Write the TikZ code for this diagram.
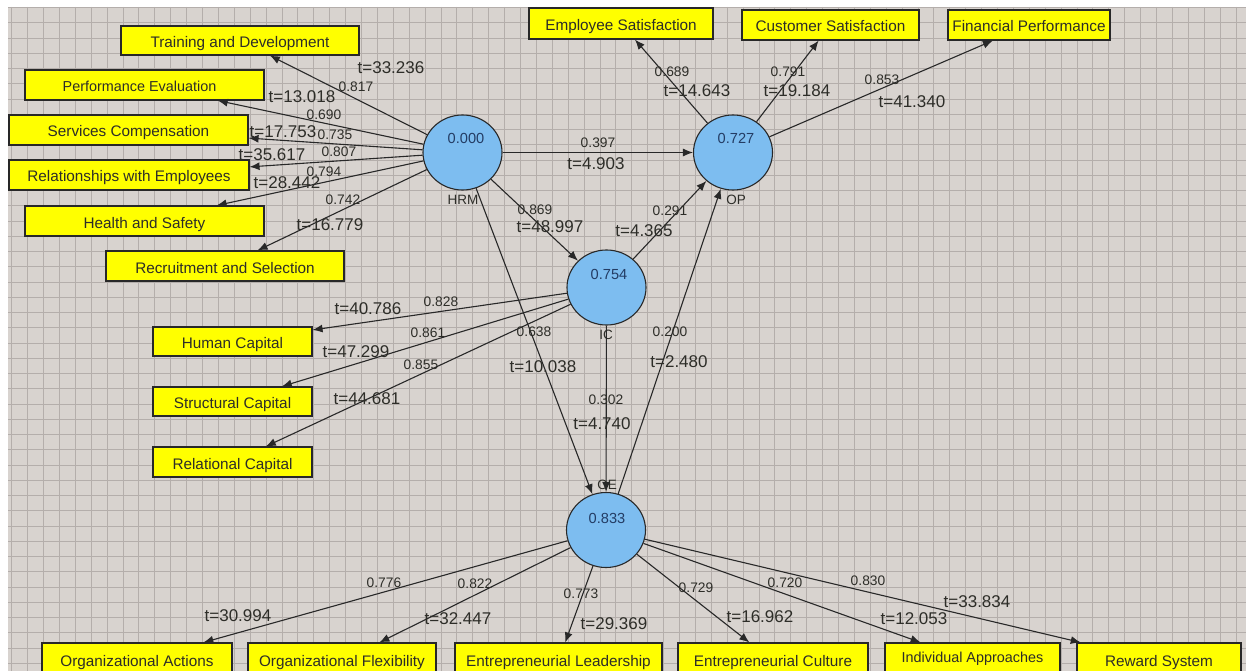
\documentclass[tikz,border=0pt]{standalone}
\usepackage{fontspec}
\setmainfont{Liberation Sans}
\usetikzlibrary{arrows.meta,shapes.geometric}
\definecolor{bg}{RGB}{216,211,207}
\definecolor{gridc}{RGB}{180,174,171}
\definecolor{boxy}{RGB}{255,255,0}
\definecolor{circ}{RGB}{125,189,240}
\definecolor{edge}{RGB}{40,40,40}
\definecolor{valc}{RGB}{35,60,100}
\definecolor{txt}{RGB}{45,45,40}
\tikzset{
 lv/.style={ellipse, draw=edge, line width=1.1pt, fill=circ, minimum width=79pt, minimum height=75pt, inner sep=0pt},
 ibox/.style={rectangle, draw=edge, line width=1.1pt, fill=boxy, inner sep=0pt, text height=14pt, text depth=0pt, font=\fontsize{15.3}{18}\selectfont, text=txt},
 conn/.style={draw=edge, line width=1.1pt, -{Latex[length=10pt,width=8pt]}},
 tval/.style={font=\fontsize{17}{20}\selectfont, text=txt, inner sep=0pt},
 lval/.style={font=\fontsize{13.8}{16}\selectfont, text=txt, inner sep=0pt},
 cval/.style={font=\fontsize{14.6}{17}\selectfont, text=valc, inner sep=0pt},
 cname/.style={font=\fontsize{13.5}{16}\selectfont, text=txt, inner sep=0pt},
 gridline/.style={draw=gridc, line width=0.8pt}
}
\begin{document}
\begin{tikzpicture}[x=1pt,y=-1pt]
\useasboundingbox (0,0) rectangle (1246,671);
\fill[white] (0,0) rectangle (1246,671);
\fill[bg] (8,7) rectangle (1246,671);
\foreach \i in {0,...,77} \draw[gridline] ({11.6+15.9*\i},7) -- ({11.6+15.9*\i},671);
\foreach \j in {0,...,43} \draw[gridline] (8,{7.5+15.25*\j}) -- (1246,{7.5+15.25*\j});

% latent variables
\node[lv] (hrm) at (462.5,152.5) {};
\node[lv] (op) at (733,152.5) {};
\node[lv] (ic) at (606.5,287.5) {};
\node[lv] (oe) at (606,530) {};
\node[cval] (hrmv) at (466,138) {0.000};
\node[cval] (opv) at (736,138) {0.727};
\node[cval] (icv) at (609,274) {0.754};
\node[cval] (oev) at (607,518) {0.833};
\node[cname] (hrmn) at (463,200) {HRM};
\node[cname] (opn) at (736,200) {OP};
\node[cname] (icn) at (606,335) {IC};
\node[cname] (oen) at (607,485) {OE};

% indicator boxes
\node[ibox, minimum width=238pt, minimum height=29pt] (td) at (240,40.5) {Training and Development};
\node[ibox, minimum width=239pt, minimum height=30pt, font=\fontsize{14.4}{17}\selectfont] (pe) at (144.5,85) {Performance Evaluation\hspace*{10pt}};
\node[ibox, minimum width=239pt, minimum height=30pt] (sc) at (128.5,130) {Services Compensation};
\node[ibox, minimum width=240pt, minimum height=30pt] (re) at (129,175) {Relationships with Employees};
\node[ibox, minimum width=239pt, minimum height=30pt] (hs) at (144.5,221) {Health and Safety};
\node[ibox, minimum width=238pt, minimum height=30pt] (rs) at (225,266) {Recruitment and Selection};

\node[ibox, minimum width=184pt, minimum height=31pt] (es) at (621,23.5) {Employee Satisfaction};
\node[ibox, minimum width=177pt, minimum height=30pt] (cs) at (830.5,25) {Customer Satisfaction};
\node[ibox, minimum width=162pt, minimum height=30pt] (fp) at (1029,25) {Financial Performance};

\node[ibox, minimum width=159pt, minimum height=29pt] (hc) at (232.5,341.5) {Human Capital};
\node[ibox, minimum width=159pt, minimum height=29pt] (stc) at (232.5,401.5) {Structural Capital};
\node[ibox, minimum width=159pt, minimum height=30pt] (rc) at (232.5,462) {Relational Capital};

\node[ibox, minimum width=190pt, minimum height=36pt] (oa) at (137,661) {\raisebox{2pt}{Organizational Actions}};
\node[ibox, minimum width=188pt, minimum height=36pt] (of) at (342,661) {\raisebox{2pt}{Organizational Flexibility}};
\node[ibox, minimum width=207pt, minimum height=36pt] (el) at (558.5,661) {\raisebox{2pt}{Entrepreneurial Leadership}};
\node[ibox, minimum width=190pt, minimum height=36pt] (ec) at (773,661) {\raisebox{2pt}{Entrepreneurial Culture}};
\node[ibox, minimum width=175pt, minimum height=36pt, font=\fontsize{14.4}{17}\selectfont] (ia) at (972.5,661) {\raisebox{5.5pt}{Individual Approaches}};
\node[ibox, minimum width=164pt, minimum height=36pt] (rws) at (1159,661) {\raisebox{2pt}{Reward System}};

% connectors
\foreach \b in {td,pe,sc,re,hs,rs} \draw[conn] (hrm) -- (\b);
\foreach \b in {es,cs,fp} \draw[conn] (op) -- (\b);
\foreach \b in {hc,stc,rc} \draw[conn] (ic) -- (\b);
\foreach \b in {oa,of,el,ec,ia,rws} \draw[conn] (oe) -- (\b);
\draw[conn] (hrm) -- (op);
\draw[conn] (hrm) -- (ic);
\draw[conn] (hrm) -- (oe);
\draw[conn] (ic) -- (op);
\draw[conn] (ic) -- (oe);
\draw[conn] (oe) -- (op);

% labels: HRM indicators
\node[tval] (l1t) at (391,68) {t=33.236};
\node[lval] (l1v) at (356,87) {0.817};
\node[tval] (l2t) at (302,97) {t=13.018};
\node[lval] (l2v) at (324,115) {0.690};
\node[tval] (l3t) at (283,132) {t=17.753};
\node[lval] (l3v) at (335,135) {0.735};
\node[tval] (l4t) at (272,155) {t=35.617};
\node[lval] (l4v) at (339,152) {0.807};
\node[lval] (l5v) at (324,172) {0.794};
\node[tval] (l5t) at (287,183) {t=28.442};
\node[lval] (l6v) at (343,200) {0.742};
\node[tval] (l6t) at (330,225) {t=16.779};

% structural paths
\node[lval] (p1v) at (598,143) {0.397};
\node[tval] (p1t) at (596,164) {t=4.903};
\node[lval] (p2v) at (535,210) {0.869};
\node[tval] (p2t) at (550,227) {t=48.997};
\node[lval] (p3v) at (670,211) {0.291};
\node[tval] (p3t) at (644,231) {t=4.365};
\node[lval] (p4v) at (534,332) {0.638};
\node[tval] (p4t) at (543,367) {t=10.038};
\node[lval] (p5v) at (606,400) {0.302};
\node[tval] (p5t) at (602,424) {t=4.740};
\node[lval] (p6v) at (670,332) {0.200};
\node[tval] (p6t) at (679,362) {t=2.480};

% OP indicators
\node[lval] (o1v) at (672,72) {0.689};
\node[tval] (o1t) at (697,91) {t=14.643};
\node[lval] (o2v) at (788,72) {0.791};
\node[tval] (o2t) at (797,91) {t=19.184};
\node[lval] (o3v) at (882,80) {0.853};
\node[tval] (o3t) at (912,102) {t=41.340};

% IC indicators
\node[tval] (c1t) at (368,309) {t=40.786};
\node[lval] (c1v) at (441,302) {0.828};
\node[lval] (c2v) at (428,333) {0.861};
\node[tval] (c2t) at (356,352) {t=47.299};
\node[lval] (c3v) at (421,365) {0.855};
\node[tval] (c3t) at (367,399) {t=44.681};

% OE indicators
\node[lval] (e1v) at (384,583) {0.776};
\node[tval] (e1t) at (238,616) {t=30.994};
\node[lval] (e2v) at (475,584) {0.822};
\node[tval] (e2t) at (458,619) {t=32.447};
\node[lval] (e3v) at (581,594) {0.773};
\node[tval] (e3t) at (614,624) {t=29.369};
\node[lval] (e4v) at (696,588) {0.729};
\node[tval] (e4t) at (760,617) {t=16.962};
\node[lval] (e5v) at (785,583) {0.720};
\node[tval] (e5t) at (914,619) {t=12.053};
\node[lval] (e6v) at (868,581) {0.830};
\node[tval] (e6t) at (977,602) {t=33.834};
\end{tikzpicture}
\end{document}
